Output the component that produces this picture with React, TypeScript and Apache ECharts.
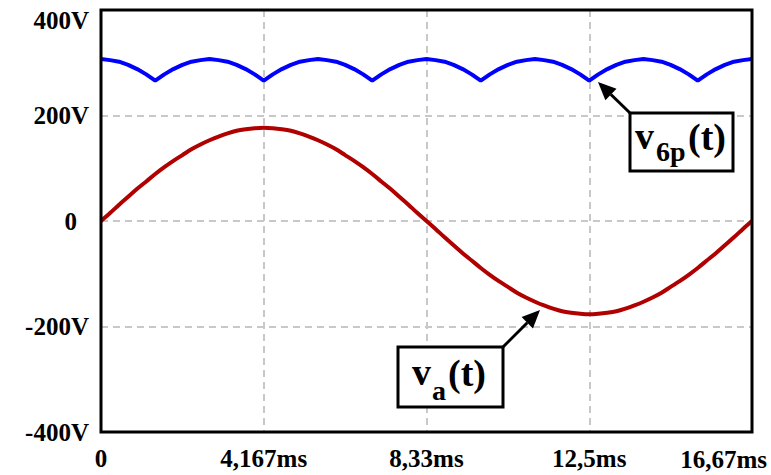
import React, { useEffect, useRef } from "react";
import * as echarts from "echarts";

// sample index: 0..72, one sample every 1/72 of the 16.67 ms period
const tickLabels = ["0", "4,167ms", "8,33ms", "12,5ms", "16,67ms"];
const yTicks = [-400, -200, 0, 200, 400];

const v6p = [
  307, 305, 302, 296, 288, 278, 266, 278, 288, 296, 302, 305,
  307, 305, 302, 296, 288, 278, 266, 278, 288, 296, 302, 305,
  307, 305, 302, 296, 288, 278, 266, 278, 288, 296, 302, 305,
  307, 305, 302, 296, 288, 278, 266, 278, 288, 296, 302, 305,
  307, 305, 302, 296, 288, 278, 266, 278, 288, 296, 302, 305,
  307, 305, 302, 296, 288, 278, 266, 278, 288, 296, 302, 305,
  307,
];

const va = [
  0, 15, 31, 46, 61, 75, 89, 102, 114, 125, 136, 145, 153, 160, 166, 171, 174, 176,
  177, 176, 174, 171, 166, 160, 153, 145, 136, 125, 114, 102, 89, 75, 61, 46, 31, 15,
  0, -15, -31, -46, -61, -75, -89, -102, -114, -125, -136, -145, -153, -160, -166, -171, -174, -176,
  -177, -176, -174, -171, -166, -160, -153, -145, -136, -125, -114, -102, -89, -75, -61, -46, -31, -15,
  0,
];

const categories = va.map((_, i) => String(i));
const FONT = "Liberation Serif";
const GRID = { left: 101, right: 19, top: 10, bottom: 43 };
const W = 771, H = 475;

function arrow(tail: number[], tip: number[]) {
  const dx = tip[0] - tail[0];
  const dy = tip[1] - tail[1];
  const len = Math.sqrt(dx * dx + dy * dy);
  const ux = dx / len, uy = dy / len;
  const hl = 18, hw = 8;
  const bx = tip[0] - hl * ux, by = tip[1] - hl * uy;
  const nx = -uy, ny = ux;
  return [
    {
      type: "line",
      z: 100,
      shape: { x1: tail[0], y1: tail[1], x2: bx, y2: by },
      style: { stroke: "#000", lineWidth: 3 },
    },
    {
      type: "polygon",
      z: 100,
      shape: {
        points: [
          [tip[0], tip[1]],
          [bx + hw * nx, by + hw * ny],
          [bx - hw * nx, by - hw * ny],
        ],
      },
      style: { fill: "#000" },
    },
  ];
}

function txt(text: string, x: number, y: number, size: number, align = "left") {
  return {
    type: "text",
    z: 102,
    x,
    y,
    style: {
      text,
      fill: "#000",
      fontFamily: FONT,
      fontWeight: "bold",
      fontSize: size,
      verticalAlign: "middle",
      align,
    },
  };
}

export default function App() {
  const ref = useRef<HTMLDivElement>(null);
  useEffect(() => {
    document.body.style.margin = "0";
    if (!ref.current) return;
    const chart = echarts.init(ref.current, null, { renderer: "svg" });
    chart.setOption({
      animation: false,
      backgroundColor: "#fff",
      textStyle: { fontFamily: FONT },
      grid: { ...GRID, show: false },
      xAxis: {
        type: "category",
        data: categories,
        boundaryGap: false,
        axisLine: { show: false },
        axisTick: { show: false },
        axisLabel: {
          interval: 17,
          margin: 14,
          color: "#000",
          fontFamily: FONT,
          fontWeight: "bold",
          fontSize: 25,
          formatter: (v: string) => {
            const i = Number(v);
            if (i === 72) return "";
            return tickLabels[i / 18] ?? "";
          },
        },
        splitLine: {
          show: true,
          interval: 17,
          lineStyle: { color: "#c8c8c8", type: [7, 5], width: 2 },
        },
      },
      yAxis: {
        type: "value",
        min: yTicks[0],
        max: yTicks[yTicks.length - 1],
        interval: 200,
        axisLine: { show: false },
        axisTick: { show: false },
        axisLabel: {
          margin: 12,
          color: "#000",
          fontFamily: FONT,
          fontWeight: "bold",
          fontSize: 25,
          formatter: (v: number) => {
            const s = v === 0 ? "{zero|0}" : `${v}V`;
            return v === 400 ? `{top|${s}}` : s;
          },
          rich: {
            top: {
              padding: [20, 0, 0, 0],
              fontFamily: FONT,
              fontWeight: "bold",
              fontSize: 25,
              color: "#000",
            },
            zero: {
              padding: [0, 12, 0, 0],
              fontFamily: FONT,
              fontWeight: "bold",
              fontSize: 25,
              color: "#000",
            },
          },
        },
        splitLine: {
          show: true,
          lineStyle: { color: "#c8c8c8", type: [7, 5], width: 2 },
        },
      },
      series: [
        {
          type: "line",
          data: v6p,
          symbol: "none",
          lineStyle: { color: "#0000ff", width: 4 },
          z: 3,
        },
        {
          type: "line",
          data: va,
          symbol: "none",
          smooth: 0.3,
          lineStyle: { color: "#b00000", width: 4 },
          z: 3,
        },
      ],
      graphic: [
        {
          type: "rect",
          z: 50,
          shape: {
            x: GRID.left,
            y: GRID.top,
            width: W - GRID.left - GRID.right,
            height: H - GRID.top - GRID.bottom,
          },
          style: { fill: "none", stroke: "#000", lineWidth: 3 },
        },
        txt(tickLabels[4], 767, 459, 25, "right"),
        ...arrow([630, 113], [598, 82]),
        ...arrow([503, 347], [540, 310]),
        {
          type: "rect",
          z: 101,
          shape: { x: 630, y: 113, width: 103, height: 58 },
          style: { fill: "#fff", stroke: "#000", lineWidth: 3 },
        },
        txt("v", 635, 136, 38),
        txt("6p", 656, 151, 28),
        txt("(t)", 688, 137, 38),
        {
          type: "rect",
          z: 101,
          shape: { x: 398, y: 347, width: 105, height: 60 },
          style: { fill: "#fff", stroke: "#000", lineWidth: 3 },
        },
        txt("v", 412, 372, 38),
        txt("a", 432, 390, 28),
        txt("(t)", 448, 373, 38),
      ],
    });
    return () => chart.dispose();
  }, []);
  return <div ref={ref} style={{ width: W, height: H }} />;
}
